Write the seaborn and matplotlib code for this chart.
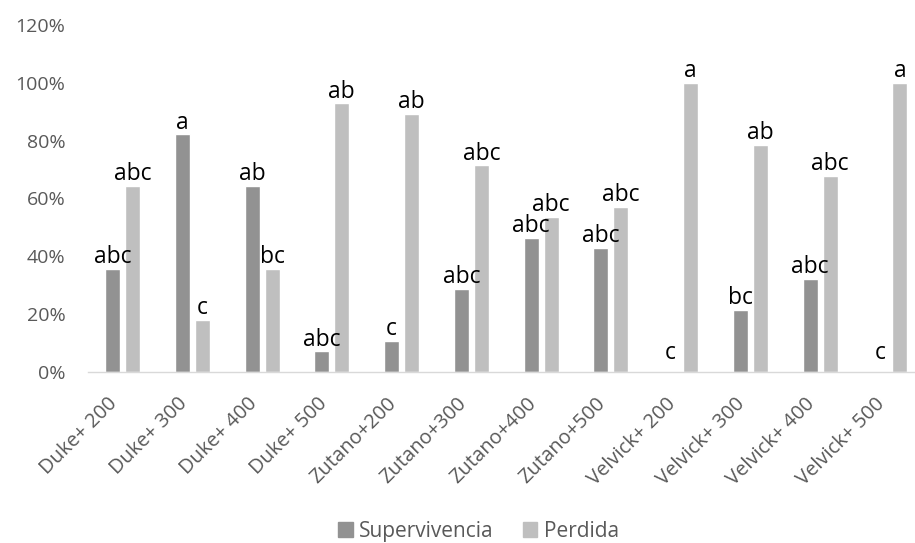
import matplotlib
matplotlib.use("Agg")
import matplotlib.pyplot as plt
import matplotlib.transforms as mtransforms
from matplotlib.ticker import PercentFormatter
import seaborn as sns
import pandas as pd

# === data ===
tratamientos = ["Duke+ 200", "Duke+ 300", "Duke+ 400", "Duke+ 500",
                "Zutano+200", "Zutano+300", "Zutano+400", "Zutano+500",
                "Velvick+ 200", "Velvick+ 300", "Velvick+ 400", "Velvick+ 500"]
supervivencia = [0.357, 0.821, 0.643, 0.071, 0.107, 0.286, 0.464, 0.429, 0.0, 0.214, 0.321, 0.0]
perdida = [0.643, 0.179, 0.357, 0.929, 0.893, 0.714, 0.536, 0.571, 1.0, 0.786, 0.679, 1.0]
letras_sup = ["abc", "a", "ab", "abc", "c", "abc", "abc", "abc", "c", "bc", "abc", "c"]
letras_per = ["abc", "c", "bc", "ab", "ab", "abc", "abc", "abc", "a", "ab", "abc", "a"]
series = ["Supervivencia", "Perdida"]
colores = ["#929292", "#bfbfbf"]

# long table for seaborn
df = pd.DataFrame({
    "Tratamiento": tratamientos * 2,
    "Valor": supervivencia + perdida,
    "Serie": [series[0]] * len(tratamientos) + [series[1]] * len(tratamientos),
})

sns.set_style("white")
plt.rcParams["font.family"] = ["Open Sans", "DejaVu Sans"]

fig = plt.figure(figsize=(9.15, 5.43), dpi=100)
ax = fig.add_axes([0.0958, 0.3155, 1 - 0.0958, 0.954 - 0.3155])

sns.barplot(data=df, x="Tratamiento", y="Valor", hue="Serie", order=tratamientos,
            hue_order=series, palette=colores, width=0.573, gap=0.25,
            saturation=1, errorbar=None, ax=ax, legend=False)

ax.set_xlim(-0.5, 11.36)
ax.set_ylim(0, 1.2)
ax.set_yticks([0, 0.2, 0.4, 0.6, 0.8, 1.0, 1.2])
ax.yaxis.set_major_formatter(PercentFormatter(1.0, decimals=0))
ax.set_xlabel("")
ax.set_ylabel("")

for s in ["top", "right", "left"]:
    ax.spines[s].set_visible(False)
ax.spines["bottom"].set_color("#d9d9d9")
ax.spines["bottom"].set_linewidth(1.0)

ax.tick_params(axis="y", length=0, pad=16, labelsize=14, labelcolor="#595959")
ax.tick_params(axis="x", length=0, pad=21, labelsize=14.5, labelcolor="#595959")
plt.setp(ax.get_xticklabels(), rotation=45, ha="right", va="center", rotation_mode="anchor")
shift = mtransforms.ScaledTranslation(-8 / 100, 0, fig.dpi_scale_trans)
for lbl in ax.get_xticklabels():
    lbl.set_transform(lbl.get_transform() + shift)

# significance letters above the bars (a bit higher over empty bars)
for cont, letras in zip(ax.containers, [letras_sup, letras_per]):
    for bar, txt in zip(cont, letras):
        alto = bar.get_height()
        ax.annotate(txt, xy=(bar.get_x() + bar.get_width() / 2, alto),
                    xytext=(0, 4 if alto > 0 else 9), textcoords="offset points",
                    ha="center", va="baseline", fontsize=16.5, color="black")

# legend at the bottom
handles = [plt.Rectangle((0, 0), 1, 1, color=c) for c in colores]
fig.legend(handles, series, loc="center", bbox_to_anchor=(0.523, 0.022), ncol=2,
           frameon=False, fontsize=15, labelcolor="#595959", handlelength=0.7,
           handleheight=0.7, handletextpad=0.3, columnspacing=1.4)

fig.savefig("out.png", dpi=100)
